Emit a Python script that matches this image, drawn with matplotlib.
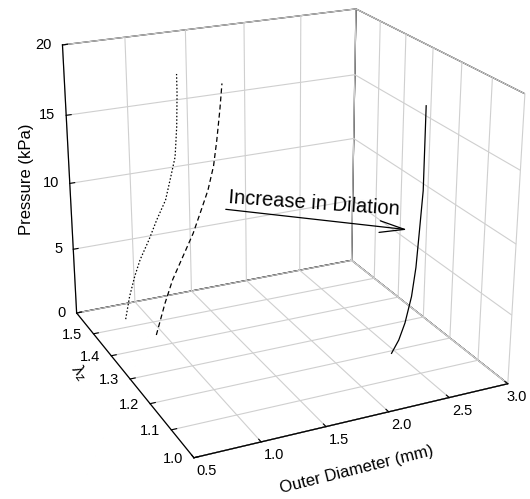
import numpy as np
import matplotlib
matplotlib.use('Agg')
import matplotlib.pyplot as plt
from matplotlib.transforms import IdentityTransform
from mpl_toolkits.mplot3d import Axes3D  # noqa

plt.rcParams['font.family'] = ['Liberation Sans', 'DejaVu Sans']
plt.rcParams['mathtext.fontset'] = 'custom'
plt.rcParams['mathtext.it'] = 'Liberation Sans:italic'
plt.rcParams['mathtext.rm'] = 'Liberation Sans'
plt.rcParams['grid.color'] = '#cfcfcf'
plt.rcParams['grid.linewidth'] = 0.8
plt.rcParams['axes.linewidth'] = 0.9

# Data: outer diameter (mm), axial stretch, pressure (kPa)
dotted_d = [0.82, 0.86, 0.91, 0.96, 1.04, 1.11, 1.19, 1.24, 1.28, 1.30, 1.31, 1.31]
dotted_p = [0.0, 1.7, 3.2, 4.4, 5.8, 7.2, 8.6, 10.3, 11.7, 13.9, 16.3, 17.7]
dotted_l = 1.534
dashed_d = [0.94, 1.02, 1.09, 1.18, 1.27, 1.34, 1.40, 1.45, 1.48, 1.51, 1.53]
dashed_p = [0.0, 2.3, 4.0, 5.6, 7.2, 8.8, 10.2, 11.9, 13.7, 15.9, 17.7]
dashed_l = 1.445
solid_d = [2.46, 2.52, 2.57, 2.62, 2.65, 2.67, 2.69, 2.69, 2.69]
solid_p = [0.0, 0.9, 2.1, 4.0, 6.1, 8.8, 11.6, 14.7, 17.5]
solid_l = 1.191

x_ticks = [0.5, 1.0, 1.5, 2.0, 2.5, 3.0]
y_ticks = [1.0, 1.1, 1.2, 1.3, 1.4, 1.5]
z_ticks = [0, 5, 10, 15, 20]
x_labels = [f'{v:.1f}' for v in x_ticks]
y_labels = [f'{v:.1f}' for v in y_ticks]
z_labels = [f'{v:d}' for v in z_ticks]

W, H = 530, 499
fig = plt.figure(figsize=(W / 100, H / 100), dpi=100)
S = 544.42
cx, cy = 275.15, 219.68
ax = fig.add_axes([(cx - S / 2) / W, (H - cy - S / 2) / H, S / W, S / H], projection='3d')
ax.set_proj_type('persp', focal_length=0.547)
ax.view_init(elev=21.954, azim=-115.102)
ax.set_box_aspect((0.9973, 1.0, 0.8944))

ax.plot(dotted_d, [dotted_l] * len(dotted_d), dotted_p, color='black', lw=0.9, ls=(0, (1.2, 1.6)))
ax.plot(dashed_d, [dashed_l] * len(dashed_d), dashed_p, color='black', lw=0.9, ls=(0, (4, 2.5)))
ax.plot(solid_d, [solid_l] * len(solid_d), solid_p, color='black', lw=0.9, ls='-')

ax.set_xlim(0.5, 3.0)
ax.set_ylim(1.0, 1.6)
ax.set_zlim(0, 20)
ax.set_xticks(x_ticks)
ax.set_yticks(y_ticks)
ax.set_zticks(z_ticks)
ax.set_xticklabels([''] * len(x_ticks))
ax.set_yticklabels([''] * len(y_ticks))
ax.set_zticklabels([''] * len(z_ticks))

for axis in (ax.xaxis, ax.yaxis, ax.zaxis):
    axis.set_pane_color((1, 1, 1, 1))
    axis.pane.set_edgecolor('black')
    axis.pane.set_linewidth(0.9)
    axis.line.set_color('black')
    axis.line.set_linewidth(0.9)
    axis._axinfo['tick']['inward_factor'] = 0.0
    axis._axinfo['tick']['outward_factor'] = 0.2
    axis._axinfo['tick']['linewidth'] = {True: 0.8, False: 0.5}

ax.set_xlabel('')
ax.set_ylabel('')
ax.set_zlabel('')

# Tick labels placed through the axes' own 3D projection
fig.canvas.draw()
M = ax.get_proj()


def to_px(x, y, z):
    v = M @ np.array([x, y, z, 1.0])
    return ax.transData.transform((v[0] / v[3], v[1] / v[3]))


ident = IdentityTransform()
for v, s in zip(z_ticks, z_labels):
    px, py = to_px(0.5, 1.6, v)
    fig.text(px - 11, py, s, transform=ident, fontsize=10.5, ha='right', va='center')
for v, s in zip(y_ticks, y_labels):
    px, py = to_px(0.5, v, 0)
    fig.text(px - 11, py - 1, s, transform=ident, fontsize=10.5, ha='right', va='center')
for v, s in zip(x_ticks, x_labels):
    px, py = to_px(v, 1.0, 0)
    fig.text(min(px + 13, W - 13), py - 13, s, transform=ident, fontsize=10.5, ha='center', va='center')

fig.text(357 / W, (H - 470) / H, 'Outer Diameter (mm)', fontsize=12,
         rotation=14, rotation_mode='anchor', ha='center', va='center')
fig.text(79 / W, (H - 373) / H, r'$\lambda_z$', fontsize=12,
         rotation=-52, rotation_mode='anchor', ha='center', va='center')
fig.text(27 / W, (H - 179) / H, 'Pressure (kPa)', fontsize=12,
         rotation=90, rotation_mode='anchor', ha='center', va='center')

fig.text(228 / W, (H - 203) / H, 'Increase in Dilation', fontsize=14.5,
         rotation=-4, rotation_mode='anchor', ha='left', va='baseline')
ax.annotate('', xy=(410 / W, (H - 230) / H), xytext=(223 / W, (H - 209) / H),
            xycoords='figure fraction', textcoords='figure fraction',
            arrowprops=dict(arrowstyle='->,head_length=1.8,head_width=0.42', lw=0.9, color='black'))

fig.savefig('out.png', dpi=100)
